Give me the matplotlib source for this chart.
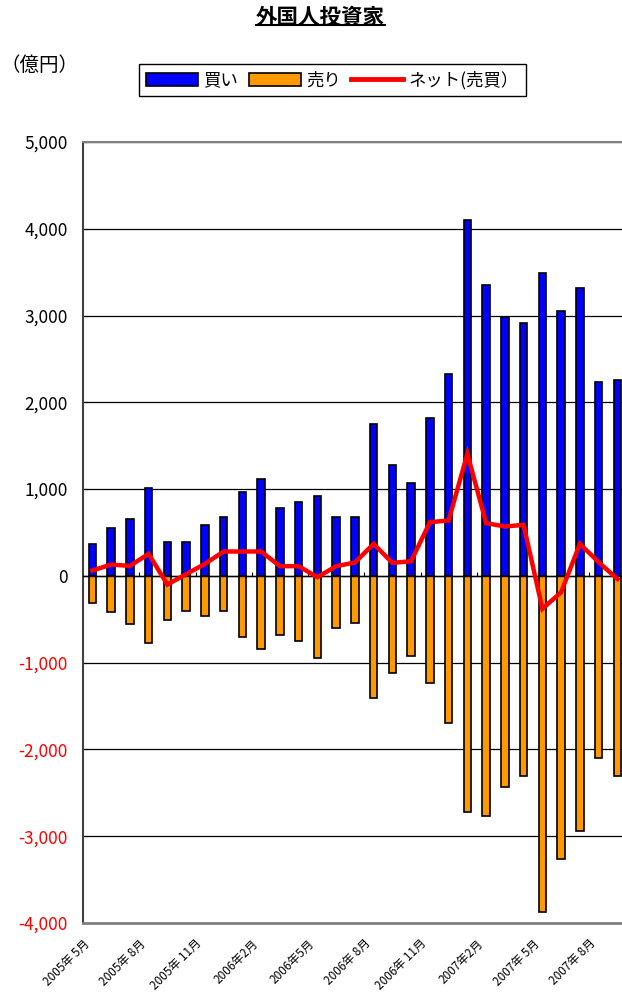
import matplotlib
matplotlib.use('Agg')
import matplotlib.pyplot as plt
from matplotlib.lines import Line2D
from matplotlib.patches import Patch
import numpy as np

plt.rcParams['font.family'] = ['Noto Sans CJK JP', 'DejaVu Sans']

# monthly values, 2005/5 .. 2007/9 (億円)
buy = [370, 550, 658, 1008, 388, 388, 592, 677, 962, 1115, 788, 854, 919, 677, 677,
       1754, 1273, 1073, 1819, 2323, 4100, 3354, 2981, 2915, 3485, 3050, 3312, 2235, 2262]
sell = [-310, -421, -552, -770, -513, -402, -464, -402, -705, -839, -682, -747, -946, -598, -548,
        -1402, -1123, -923, -1230, -1690, -2716, -2762, -2433, -2303, -3874, -3264, -2935, -2103, -2303]
net = [62, 131, 115, 254, -100, 20, 138, 281, 281, 281, 112, 112, -15, 112, 154,
       369, 150, 169, 619, 638, 1408, 608, 569, 588, -379, -188, 369, 158, -35]
tick_labels = ['2005年 5月', '2005年 8月', '2005年 11月', '2006年2月', '2006年5月',
               '2006年 8月', '2006年 11月', '2007年2月', '2007年 5月', '2007年 8月']
yticks = list(range(-4000, 5001, 1000))

W, H = 622, 992
fig = plt.figure(figsize=(W / 100, H / 100), dpi=100)
ax = fig.add_axes([83 / W, (H - 923) / H, 543.75 / W, 781 / H])

x = np.arange(len(buy))
ax.bar(x, buy, width=0.4, color='#0000FF', edgecolor='black', linewidth=1.2, zorder=3)
ax.bar(x, sell, width=0.4, color='#FF9900', edgecolor='black', linewidth=1.2, zorder=3)
ax.plot(x, net, color='#FF0000', linewidth=3.2, solid_joinstyle='miter', zorder=5)

# small category ticks sitting on the zero line
ax.vlines(np.arange(2.5, len(buy), 3), 0, 45, color='black', linewidth=0.8, zorder=4)

ax.set_yticks(yticks, ['{:,}'.format(v) for v in yticks])
for lab, v in zip(ax.get_yticklabels(), yticks):
    lab.set_color('#FF0000' if v < 0 else 'black')
ax.tick_params(axis='y', labelsize=12.5, length=3, direction='in', pad=11)
ax.yaxis.grid(True, color='black', linewidth=0.9, zorder=0)
ax.set_xticks([])

ax.set_xlim(-0.5, len(buy) - 0.5)
ax.set_ylim(-4000, 5000)

# date labels every 3 months
for i, t in zip(range(0, len(buy), 3), tick_labels):
    ax.annotate(t, xy=(i, 0), xycoords=('data', 'axes fraction'),
                xytext=(-7, -10), textcoords='offset points', rotation=45,
                ha='right', va='top', rotation_mode='anchor', fontsize=8.5,
                annotation_clip=False)

ax.axhline(0, color='black', linewidth=1.0, zorder=4)
ax.spines['right'].set_visible(False)
ax.spines['left'].set_color('#404040')
ax.spines['left'].set_linewidth(1.5)
ax.spines['bottom'].set_color('#808080')
ax.spines['bottom'].set_linewidth(2)
ax.spines['top'].set_color('#808080')
ax.spines['top'].set_linewidth(1.5)

title = fig.text(320 / W, 1 - 17 / H, '外国人投資家', ha='center', va='center',
                 fontsize=15.5, fontweight='bold')
fig.text(1 / W, 1 - 65 / H, '（億円）', ha='left', va='center', fontsize=14)

handles = [Patch(facecolor='#0000FF', edgecolor='black', linewidth=1.2),
           Patch(facecolor='#FF9900', edgecolor='black', linewidth=1.2),
           Line2D([], [], color='#FF0000', linewidth=3.5)]
leg = fig.legend(handles, ['買い', '売り', 'ネット(売買）'], ncol=3, loc='center',
                 bbox_to_anchor=(332.5 / W, 1 - 80 / H), fontsize=12.5,
                 handlelength=3.0, handleheight=0.8, handletextpad=0.3,
                 columnspacing=0.6, fancybox=False, framealpha=1,
                 borderpad=0.4)
leg.get_frame().set_edgecolor('black')
leg.get_frame().set_linewidth(1.0)

# underline the title
fig.canvas.draw()
bb = title.get_window_extent().transformed(fig.transFigure.inverted())
fig.add_artist(Line2D([bb.x0, bb.x1], [bb.y0 + 0.003, bb.y0 + 0.003],
                      transform=fig.transFigure, color='black', linewidth=1.5))

fig.savefig('out.png', dpi=100)
